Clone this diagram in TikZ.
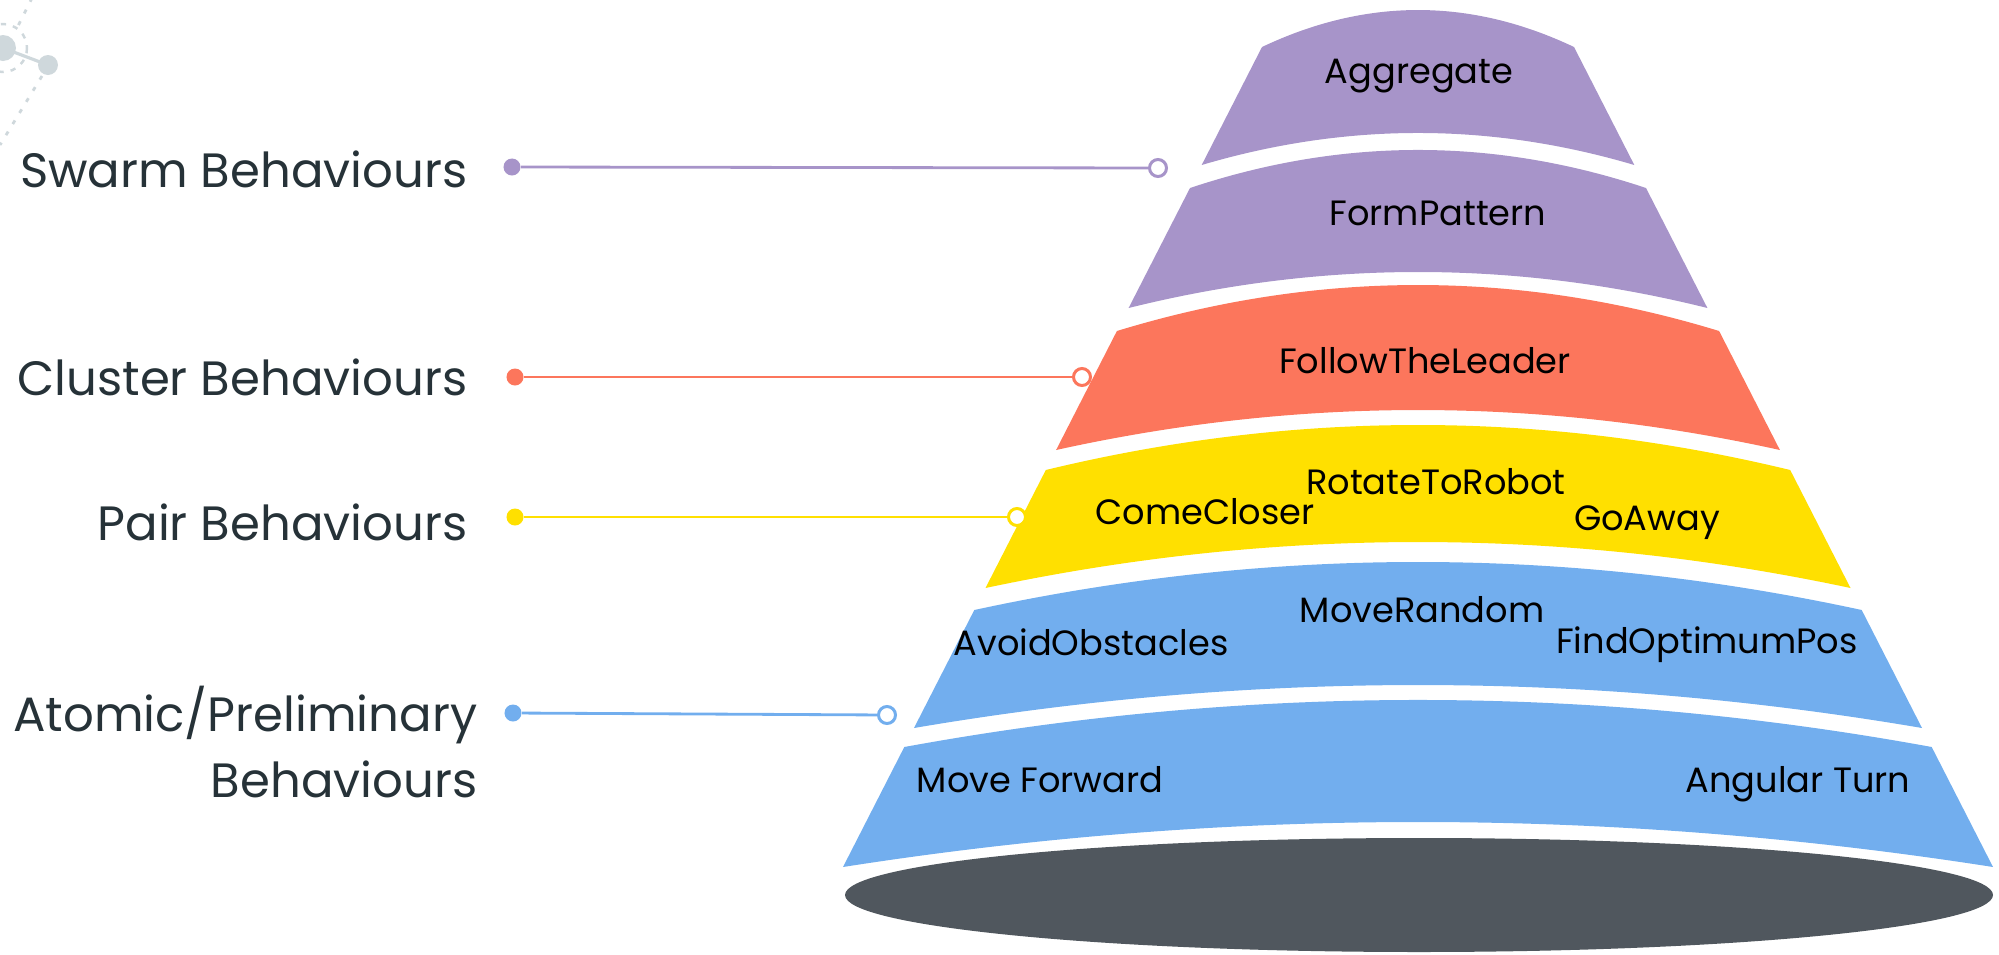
\documentclass[tikz,border=0pt]{standalone}
\usepackage{fontspec}
\setmainfont{Poppins}
\definecolor{purp}{HTML}{A794C9}
\definecolor{salmon}{HTML}{FC765C}
\definecolor{gold}{HTML}{FFE000}
\definecolor{sky}{HTML}{72AEEE}
\definecolor{base}{HTML}{50575E}
\definecolor{labelc}{HTML}{263238}
\definecolor{deco}{HTML}{CFD8DC}
\begin{document}
\begin{tikzpicture}[x=0.01cm, y=-0.01cm,
		lbl/.style={font=\fontsize{13.7}{18.5}\selectfont, text=labelc, inner sep=0pt},
		tag/.style={font=\fontsize{10}{12}\selectfont, inner sep=0pt},
		dot/.style={circle, fill=#1, minimum size=0.17cm, inner sep=0pt},
		ring/.style={circle, draw=#1, fill=white, line width=0.85pt, minimum size=0.17cm, inner sep=0pt},
		link/.style={draw=#1, line width=0.8pt}]
		\useasboundingbox (0,0) rectangle (1999,954);
		\fill[deco] (3,48) circle (13);
		\fill[deco] (48,65) circle (10);
		\draw[deco, line width=0.9pt] (3,48) -- (48,65);
		\draw[deco, line width=0.7pt, dash pattern=on 1.5pt off 2pt] (3,48) circle (24);
		\draw[deco, line width=0.8pt, dash pattern=on 1.2pt off 2.5pt] (32,-2) -- (16,30);
		\draw[deco, line width=0.8pt, dash pattern=on 1.2pt off 2.5pt] (42,76) -- (0,145);
		\fill[purp] (1262,47) .. controls (1366,-2.3) and (1470,-2.3) .. (1574,47) -- (1634.3,165) .. controls (1490.1,122.3) and (1345.9,122.3) .. (1201.7,165) -- cycle;
		\fill[purp] (1190,188) .. controls (1342,137.3) and (1494,137.3) .. (1646,188) -- (1707.4,308) .. controls (1514.5,260) and (1321.5,260) .. (1128.6,308) -- cycle;
		\fill[salmon] (1116.9,331) .. controls (1317.6,269.7) and (1518.4,269.7) .. (1719.1,331) -- (1779.9,450) .. controls (1538.6,396.7) and (1297.4,396.7) .. (1056.1,450) -- cycle;
		\fill[gold] (1045.8,470) .. controls (1293.9,410) and (1542.1,410) .. (1790.2,470) -- (1850.5,588) .. controls (1562.2,526.7) and (1273.8,526.7) .. (985.5,588) -- cycle;
		\fill[sky] (974.3,610) .. controls (1270.1,546) and (1565.9,546) .. (1861.7,610) -- (1922,728) .. controls (1586,670.7) and (1250,670.7) .. (914,728) -- cycle;
		\fill[sky] (904.3,747) .. controls (1246.8,684.3) and (1589.2,684.3) .. (1931.7,747) -- (1993,867) .. controls (1609.7,807) and (1226.3,807) .. (843,867) -- cycle;
		\fill[base] (1419,895) ellipse (574 and 57);
		\node[tag, anchor=base] (aggregate) at (1419,83) {Aggregate};
		\node[tag, anchor=base] (formpattern) at (1438,225) {FormPattern};
		\node[tag, anchor=base] (followleader) at (1425,373) {FollowTheLeader};
		\node[tag, anchor=base] (comecloser) at (1205,524) {ComeCloser};
		\node[tag, anchor=base] (rotaterobot) at (1436,494) {RotateToRobot};
		\node[tag, anchor=base] (goaway) at (1647,530) {GoAway};
		\node[tag, anchor=base] (moverandom) at (1422,622) {MoveRandom};
		\node[tag, anchor=base] (avoidobst) at (1091,655) {AvoidObstacles};
		\node[tag, anchor=base] (findoptimum) at (1707,653) {FindOptimumPos};
		\node[tag, anchor=base] (moveforward) at (1040,792) {Move Forward};
		\node[tag, anchor=base] (angularturn) at (1798,792) {Angular Turn};
		\node[lbl, anchor=base east] (swarm) at (468,187) {Swarm Behaviours};
		\node[lbl, anchor=base east] (cluster) at (468,395) {Cluster Behaviours};
		\node[lbl, anchor=base east] (pair) at (468,540) {Pair Behaviours};
		\node[lbl, anchor=base east, align=right] (atomic) at (478,797) {Atomic/Preliminary\\Behaviours};
		\node[dot=purp] (swarmdot) at (512,167) {};
		\node[ring=purp] (swarmring) at (1158,168) {};
		\node[dot=salmon] (clusterdot) at (515,377) {};
		\node[ring=salmon] (clusterring) at (1082,377) {};
		\node[dot=gold] (pairdot) at (515,517) {};
		\node[ring=gold] (pairring) at (1017,517) {};
		\node[dot=sky] (atomicdot) at (513,713) {};
		\node[ring=sky] (atomicring) at (887,715) {};
		\draw[link=purp] (swarmdot) -- (swarmring);
		\draw[link=salmon] (clusterdot) -- (clusterring);
		\draw[link=gold] (pairdot) -- (pairring);
		\draw[link=sky] (atomicdot) -- (atomicring);
	\end{tikzpicture}
\end{document}
